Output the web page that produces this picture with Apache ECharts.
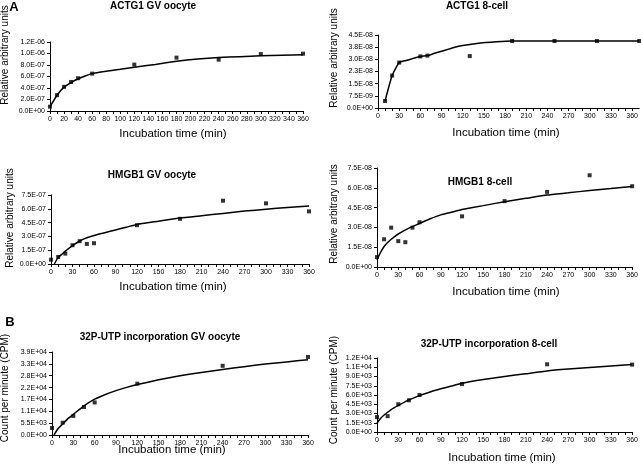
<!DOCTYPE html>
<html>
<head>
<meta charset="utf-8">
<script src="https://cdn.jsdelivr.net/npm/echarts@6/dist/echarts.min.js"></script>
<style>
html,body{margin:0;padding:0;background:#fff;}
#c{width:641px;height:465px;}
</style>
</head>
<body>
<div id="c"></div>
<script>
// ---- Panel 1: ACTG1 GV oocyte
const p1Points = [[0,0.75e-7],[10,2.75e-7],[20,4.2e-7],[30,5.05e-7],[40,5.7e-7],[60,6.5e-7],[120,8.07e-7],[180,9.28e-7],[240,8.93e-7],[300,9.9e-7],[360,9.97e-7]];
const p1Curve = [[0,0.75e-7],[10,2.75e-7],[20,4.15e-7],[30,4.95e-7],[40,5.6e-7],[50,6.1e-7],[60,6.5e-7],[80,6.9e-7],[100,7.25e-7],[120,7.6e-7],[150,8.1e-7],[180,8.65e-7],[210,9.05e-7],[240,9.3e-7],[270,9.45e-7],[300,9.6e-7],[330,9.7e-7],[360,9.8e-7]];
const p1YLabels = ['0.0E+00','2.0E-07','4.0E-07','6.0E-07','8.0E-07','1.0E-06','1.2E-06'];

// ---- Panel 2: ACTG1 8-cell
const p2Points = [[10,4.3e-9],[20,2.0e-8],[30,2.8e-8],[60,3.18e-8],[70,3.23e-8],[130,3.2e-8],[190,4.13e-8],[250,4.13e-8],[310,4.13e-8],[370,4.13e-8]];
const p2Curve = [[10,4.3e-9],[20,2.0e-8],[30,2.8e-8],[40,2.93e-8],[50,3.06e-8],[60,3.18e-8],[70,3.23e-8],[80,3.37e-8],[90,3.5e-8],[100,3.63e-8],[110,3.76e-8],[120,3.85e-8],[130,3.92e-8],[145,4.0e-8],[160,4.06e-8],[175,4.1e-8],[190,4.13e-8],[250,4.13e-8],[310,4.13e-8],[370,4.13e-8]];
const p2YLabels = ['0.0E+00','7.5E-09','1.5E-08','2.3E-08','3.0E-08','3.8E-08','4.5E-08'];

// ---- Panel 3: HMGB1 GV oocyte
const p3Points = [[0,0.47e-7],[10,0.76e-7],[20,1.13e-7],[30,2.04e-7],[40,2.48e-7],[50,2.18e-7],[60,2.26e-7],[120,4.22e-7],[180,4.91e-7],[240,6.88e-7],[300,6.59e-7],[360,5.72e-7]];
const p3Curve = [[4.6,0],[10,0.72e-7],[15,1.05e-7],[20,1.4e-7],[30,2.0e-7],[40,2.5e-7],[50,2.85e-7],[60,3.1e-7],[75,3.4e-7],[90,3.7e-7],[105,4.0e-7],[120,4.3e-7],[150,4.65e-7],[180,5.0e-7],[210,5.25e-7],[240,5.5e-7],[270,5.75e-7],[300,5.95e-7],[330,6.15e-7],[360,6.3e-7]];
const p3YLabels = ['0.0E+00','1.5E-07','3.0E-07','4.5E-07','6.0E-07','7.5E-07'];

// ---- Panel 4: HMGB1 8-cell
const p4Points = [[0,0.75e-8],[10,2.1e-8],[20,2.98e-8],[30,1.96e-8],[40,1.88e-8],[50,2.98e-8],[60,3.39e-8],[120,3.84e-8],[180,4.99e-8],[240,5.69e-8],[300,6.95e-8],[360,6.12e-8]];
const p4Curve = [[0,0.55e-8],[5,1.1e-8],[10,1.55e-8],[15,1.85e-8],[20,2.1e-8],[30,2.5e-8],[45,2.95e-8],[60,3.3e-8],[75,3.65e-8],[90,3.95e-8],[105,4.15e-8],[120,4.35e-8],[150,4.65e-8],[180,4.95e-8],[210,5.2e-8],[240,5.45e-8],[270,5.62e-8],[300,5.8e-8],[330,5.95e-8],[360,6.1e-8]];
const p4YLabels = ['0.0E+00','1.5E-08','3.0E-08','4.5E-08','6.0E-08','7.5E-08'];

// ---- Panel 5: 32P-UTP incorporation GV oocyte
const p5Points = [[0,3260],[15,5700],[30,8850],[45,13000],[60,15100],[120,23800],[240,32100],[360,36200]];
const p5Curve = [[2.8,0],[8,2800],[15,5100],[22,7500],[30,9600],[45,13500],[60,16600],[75,18800],[90,20600],[105,22100],[120,23400],[150,25600],[180,27500],[210,29000],[240,30400],[270,31700],[300,32900],[330,33900],[360,34900]];
const p5YLabels = ['0.0E+00','5.5E+03','1.1E+04','1.7E+04','2.2E+04','2.8E+04','3.3E+04','3.9E+04'];

// ---- Panel 6: 32P-UTP incorporation 8-cell
const p6Points = [[0,2410],[15,2570],[30,4500],[45,5140],[60,6000],[120,7770],[240,10980],[360,10930]];
const p6Curve = [[0,1450],[5,2200],[10,2750],[15,3200],[22,3800],[30,4300],[45,5200],[60,5900],[75,6500],[90,7000],[105,7450],[120,7900],[150,8500],[180,9000],[210,9450],[240,9900],[270,10200],[300,10450],[330,10700],[360,10950]];
const p6YLabels = ['0.0E+00','1.5E+03','3.0E+03','4.5E+03','6.0E+03','7.5E+03','9.0E+03','1.1E+04','1.2E+04'];

const panels = [
  {pts:p1Points, curve:p1Curve, yl:p1YLabels, yInt:2e-7, xMax:360, xStep:20, grid:{left:50,top:42,width:253,height:69}},
  {pts:p2Points, curve:p2Curve, yl:p2YLabels, yInt:7.5e-9, xMax:370, xStep:30, grid:{left:378,top:35,width:262,height:73}},
  {pts:p3Points, curve:p3Curve, yl:p3YLabels, yInt:1.5e-7, xMax:360, xStep:30, grid:{left:51,top:195,width:258,height:69}},
  {pts:p4Points, curve:p4Curve, yl:p4YLabels, yInt:1.5e-8, xMax:360, xStep:30, grid:{left:377,top:168,width:258,height:99}},
  {pts:p5Points, curve:p5Curve, yl:p5YLabels, yInt:5500, xMax:360, xStep:30, grid:{left:52,top:352,width:256,height:83}},
  {pts:p6Points, curve:p6Curve, yl:p6YLabels, yInt:1500, xMax:360, xStep:30, grid:{left:377,top:358,width:258,height:74}}
];

const FONT = 'Liberation Sans, Arial, sans-serif';
const axisLine = {show:true, lineStyle:{color:'#000', width:1}};
const grids=[], xAxes=[], yAxes=[], series=[];
panels.forEach((p,i)=>{
  grids.push(Object.assign({containLabel:false}, p.grid));
  xAxes.push({
    type:'value', gridIndex:i, min:0, max:p.xMax, interval:10,
    axisLine:axisLine, splitLine:{show:false},
    axisTick:{show:true, length:3, lineStyle:{color:'#000'}},
    axisLabel:{fontSize:7, color:'#000', fontFamily:FONT, margin:5,
      showMaxLabel: p.xMax % p.xStep === 0,
      formatter:(v)=> (Math.round(v) % p.xStep === 0 ? String(Math.round(v)) : '')}
  });
  yAxes.push({
    type:'value', gridIndex:i, min:0, max:p.yInt*(p.yl.length-1), interval:p.yInt,
    axisLine:axisLine, splitLine:{show:false},
    axisTick:{show:true, length:3, lineStyle:{color:'#000'}},
    axisLabel:{fontSize:7, color:'#000', fontFamily:FONT, margin:5,
      formatter:(v)=> p.yl[Math.round(v/p.yInt)] || ''}
  });
  series.push({type:'line', xAxisIndex:i, yAxisIndex:i, data:p.curve, smooth:0.15,
    showSymbol:false, symbol:'none', lineStyle:{color:'#000', width:1.5}, silent:true, animation:false});
  series.push({type:'scatter', xAxisIndex:i, yAxisIndex:i, data:p.pts, symbol:'rect', symbolSize:4,
    itemStyle:{color:'#000'}, silent:true, animation:false});
});

function txt(t, x, y, size, weight, rot){
  return {type:'text', x:x, y:y, rotation: rot ? Math.PI/2 : 0,
    style:{text:t, fill:'#000', font: (weight||'normal')+' '+size+'px '+FONT, textAlign:'center', textVerticalAlign:'middle'}};
}
const graphics = [
  txt('A', 14, 7, 13, 'bold'),
  txt('B', 10, 322, 13, 'bold'),
  txt('ACTG1 GV oocyte', 153, 6, 10, 'bold'),
  txt('ACTG1 8-cell', 477, 6, 10, 'bold'),
  txt('HMGB1 GV oocyte', 152, 175, 10, 'bold'),
  txt('HMGB1 8-cell', 480, 182, 10, 'bold'),
  txt('32P-UTP incorporation GV oocyte', 160, 337, 10, 'bold'),
  txt('32P-UTP incorporation 8-cell', 489, 344, 10, 'bold'),
  txt('Incubation time (min)', 173, 134, 11.5),
  txt('Incubation time (min)', 506, 133, 11.5),
  txt('Incubation time (min)', 173, 287, 11.5),
  txt('Incubation time (min)', 506, 292, 11.5),
  txt('Incubation time (min)', 172, 450, 11.5),
  txt('Incubation time (min)', 502, 458, 11.5),
  txt('Relative arbitrary units', 5, 55, 10, 'normal', true),
  txt('Relative arbitrary units', 334, 58, 10, 'normal', true),
  txt('Relative arbitrary units', 10, 218, 10, 'normal', true),
  txt('Relative arbitrary units', 334, 214, 10, 'normal', true),
  txt('Count per minute (CPM)', 5, 388, 10, 'normal', true),
  txt('Count per minute (CPM)', 334, 390, 10, 'normal', true)
];

const chart = echarts.init(document.getElementById('c'), null, {renderer:'canvas'});
chart.setOption({
  animation:false,
  backgroundColor:'#fff',
  grid:grids, xAxis:xAxes, yAxis:yAxes, series:series,
  graphic:graphics
});
</script>
</body>
</html>
